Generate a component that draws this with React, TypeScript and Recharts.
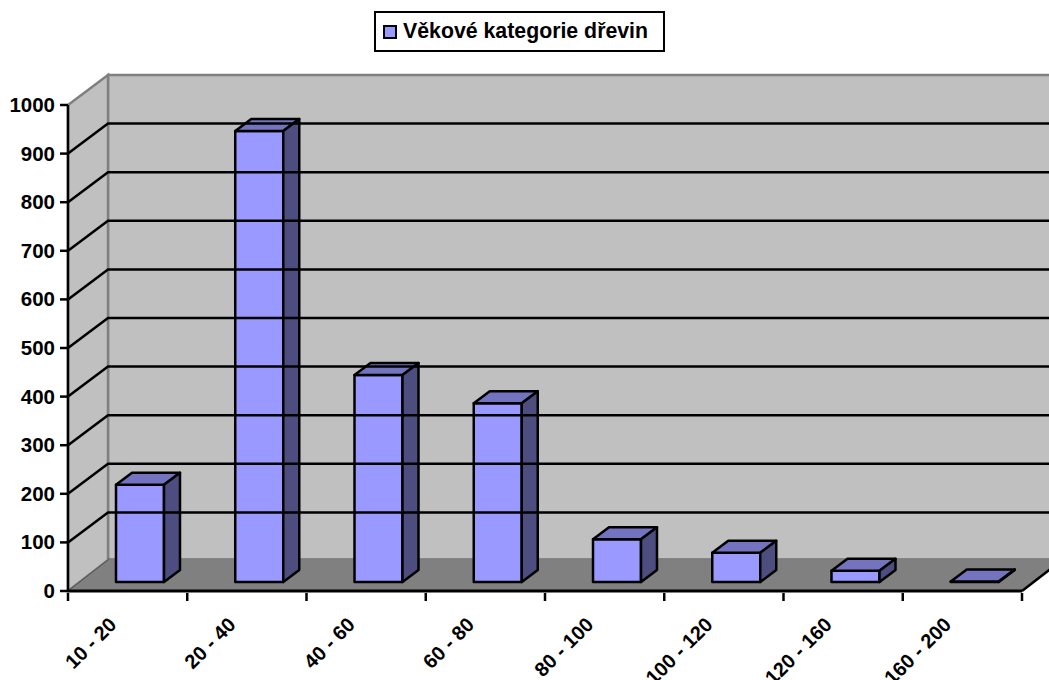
import React from 'react';
import { BarChart, Bar, XAxis, YAxis, ReferenceArea, ReferenceLine, Legend } from 'recharts';

const categories = ['10 - 20', '20 - 40', '40 - 60', '60 - 80', '80 - 100', '100 - 120', '120 - 160', '160 - 200'];
const values = [200, 928, 426, 368, 88, 60, 23, 1];
const yTicks = [0, 100, 200, 300, 400, 500, 600, 700, 800, 900, 1000];
const gridTicks = [100, 200, 300, 400, 500, 600, 700, 800, 900];
const seriesName = 'Věkové kategorie dřevin';

const data = categories.map((category, i) => ({ category, value: values[i] }));

const WIDTH = 1049;
const HEIGHT = 680;
const FONT = '"Liberation Sans", Arial, sans-serif';
// hloubka 3D podlahy a posun sloupcu do ni
const DEPTH_X = 40;
const DEPTH_Y = 31;
const BAR_OFFSET_X = 12;
const BAR_OFFSET_Y = 9;
const BAR_DEPTH_X = 16;
const BAR_DEPTH_Y = 12;
const PLOT_LEFT = 68;
const PLOT_RIGHT = 27;
const BAND = (WIDTH - PLOT_LEFT - PLOT_RIGHT) / categories.length;

function Walls({ x, y, width, height }: any) {
  const bottom = y + height;
  const right = x + width;
  return (
    <g>
      <rect x={x + DEPTH_X} y={y - DEPTH_Y + 1} width={width} height={height} fill="#C0C0C0" stroke="#808080" strokeWidth={2.5} />
      <polygon
        points={`${x},${y} ${x + DEPTH_X},${y - DEPTH_Y + 1} ${x + DEPTH_X},${bottom - DEPTH_Y} ${x},${bottom}`}
        fill="#C0C0C0"
        stroke="#808080"
        strokeWidth={2.5}
      />
      <polygon
        points={`${x},${bottom} ${x + DEPTH_X},${bottom - DEPTH_Y} ${right + DEPTH_X},${bottom - DEPTH_Y} ${right},${bottom}`}
        fill="#808080"
      />
      <line x1={x + DEPTH_X} y1={bottom - DEPTH_Y - 1} x2={right + DEPTH_X} y2={bottom - DEPTH_Y - 1} stroke="#4D4D4D" strokeWidth={1} />
      <line x1={x} y1={bottom} x2={x + DEPTH_X} y2={bottom - DEPTH_Y} stroke="#4D4D4D" strokeWidth={1} />
      <line x1={right} y1={bottom} x2={right + DEPTH_X} y2={bottom - DEPTH_Y} stroke="#000" strokeWidth={2.5} />
    </g>
  );
}

function GridLine({ x1, y1, x2, y2 }: any) {
  return (
    <polyline
      points={`${x1},${y1} ${x1 + DEPTH_X},${y1 - DEPTH_Y + 1} ${x2 + DEPTH_X},${y2 - DEPTH_Y + 1}`}
      fill="none"
      stroke="#000"
      strokeWidth={2.5}
    />
  );
}

function Bar3D({ x, y, width, height }: any) {
  const left = x + BAR_OFFSET_X;
  const top = y - BAR_OFFSET_Y;
  const right = left + width;
  const bottom = top + height;
  const edge = { stroke: '#000', strokeWidth: 2.5, strokeLinejoin: 'round' as const };
  return (
    <g>
      <rect x={left} y={top} width={width} height={height} fill="#9999FF" {...edge} />
      <polygon
        points={`${left},${top} ${left + BAR_DEPTH_X},${top - BAR_DEPTH_Y} ${right + BAR_DEPTH_X},${top - BAR_DEPTH_Y} ${right},${top}`}
        fill="#7373BF"
        {...edge}
      />
      <polygon
        points={`${right},${top} ${right + BAR_DEPTH_X},${top - BAR_DEPTH_Y} ${right + BAR_DEPTH_X},${bottom - BAR_DEPTH_Y} ${right},${bottom}`}
        fill="#4D4D80"
        {...edge}
      />
    </g>
  );
}

function CategoryTick({ x, y, payload, index }: any) {
  const isLast = index === categories.length - 1;
  return (
    <g>
      <line x1={x - BAND / 2} y1={y - 8} x2={x - BAND / 2} y2={y} stroke="#000" strokeWidth={2.5} />
      {isLast && <line x1={x + BAND / 2} y1={y - 8} x2={x + BAND / 2} y2={y} stroke="#000" strokeWidth={2.5} />}
      <text
        x={x - 10}
        y={y + 25}
        textAnchor="end"
        transform={`rotate(-45 ${x - 10} ${y + 25})`}
        fontFamily={FONT}
        fontWeight="bold"
        fontSize={20}
        fill="#000"
      >
        {payload.value}
      </text>
    </g>
  );
}

function ValueTick({ x, y, payload }: any) {
  return (
    <text x={x - 3} y={y + 7} textAnchor="end" fontFamily={FONT} fontWeight="bold" fontSize={20.5} fill="#000">
      {payload.value}
    </text>
  );
}

function LegendBox({ payload }: any) {
  const label = payload && payload[0] ? payload[0].value : seriesName;
  return (
    <div
      style={{
        boxSizing: 'border-box',
        width: 291,
        height: 41,
        border: '2.5px solid #000',
        background: '#fff',
        display: 'flex',
        alignItems: 'center',
        paddingLeft: 7,
        fontFamily: FONT,
        fontWeight: 'bold',
        fontSize: 21.3,
        color: '#000',
      }}
    >
      <span style={{ boxSizing: 'border-box', width: 14, height: 14, background: '#9999FF', border: '2px solid #000', marginRight: 6 }} />
      {label}
    </div>
  );
}

export default function App() {
  return (
    <div style={{ position: 'absolute', left: 0, top: 0, width: WIDTH, height: HEIGHT, background: '#fff' }}>
      <BarChart width={WIDTH} height={HEIGHT} data={data} margin={{ top: 105, right: PLOT_RIGHT, bottom: 0, left: 0 }}>
        <XAxis
          dataKey="category"
          height={89}
          interval={0}
          tick={<CategoryTick />}
          tickLine={false}
          tickSize={8}
          axisLine={{ stroke: '#000', strokeWidth: 3 }}
        />
        <YAxis
          width={PLOT_LEFT}
          domain={[0, 1000]}
          ticks={yTicks}
          interval={0}
          tick={<ValueTick />}
          tickLine={{ stroke: '#000', strokeWidth: 2.5 }}
          tickSize={8}
          axisLine={{ stroke: '#000', strokeWidth: 2.5 }}
        />
        <ReferenceArea y1={0} y2={1000} shape={<Walls />} ifOverflow="visible" />
        {gridTicks.map((t) => (
          <ReferenceLine key={t} y={t} shape={<GridLine />} ifOverflow="visible" />
        ))}
        <Legend
          layout="vertical"
          align="center"
          verticalAlign="middle"
          wrapperStyle={{ left: 374, top: 11, width: 291 }}
          content={<LegendBox />}
        />
        <Bar dataKey="value" name={seriesName} barSize={48} shape={<Bar3D />} isAnimationActive={false} />
      </BarChart>
    </div>
  );
}
